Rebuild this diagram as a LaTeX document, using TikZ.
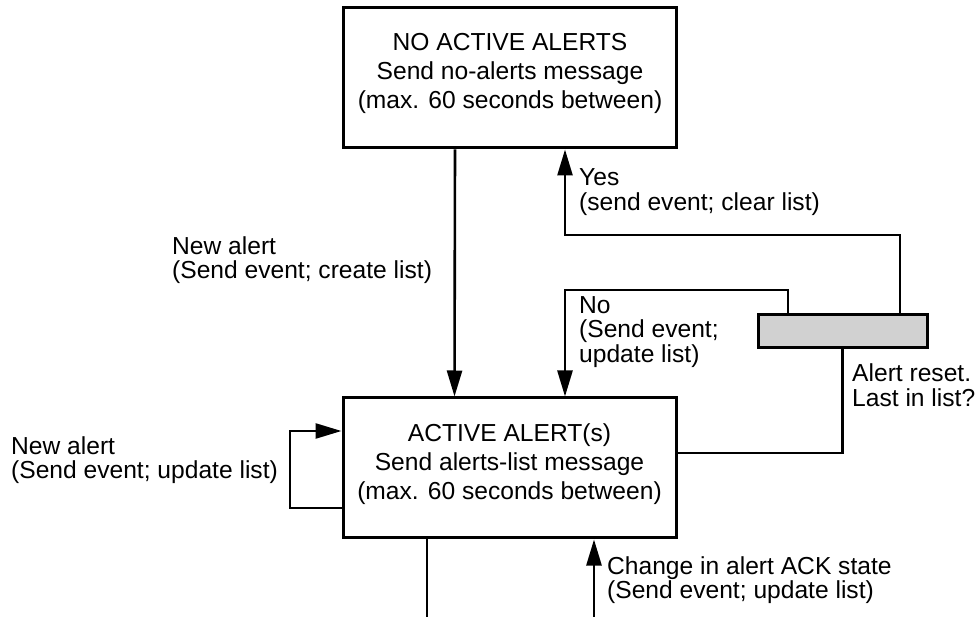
\documentclass[tikz,border=0pt]{standalone}
\usepackage{fontspec}
\setmainfont{Liberation Sans}
\usepackage{tikz}
\usetikzlibrary{arrows.meta,positioning}
\usepackage{xcolor}
\definecolor{barfill}{gray}{0.82}

\begin{document}
\begin{tikzpicture}[x=1pt, y=-1pt,
    statebox/.style={rectangle, draw, line width=3pt, minimum width=333pt, minimum height=140pt},
    boxtext/.style={align=center, inner sep=0, font=\fontsize{24.6}{29}\selectfont},
    lbl/.style={anchor=west, align=left, inner sep=0, font=\fontsize{24.6}{24.5}\selectfont},
    flow/.style={line width=2.6pt, -{Triangle[length=26pt, width=15pt]}},
    plain/.style={line width=2.6pt}]
  \useasboundingbox (0,0) rectangle (978,617);
  % states
  \node[statebox] (noalerts) at (510,78) {};
  \node[boxtext] (noalertstext) at ([yshift=5pt]noalerts.center) {NO ACTIVE ALERTS\\Send no-alerts message\\(max. 60 seconds between)};
  \node[statebox] (active) at (509.5,468) {};
  \node[boxtext] (activetext) at ([yshift=4pt]active.center) {ACTIVE ALERT(s)\\Send alerts-list message\\(max. 60 seconds between)};
  \node[rectangle, draw, line width=3pt, fill=barfill, minimum width=169pt, minimum height=33pt] (bar) at (842.5,331.5) {};
  % bends and free ends
  \coordinate (yesturn) at (565,235);
  \coordinate (noturn) at (565,290);
  \coordinate (loopcorner) at (290,431);
  \coordinate (outA) at (427,617);
  \coordinate (inB) at (594,617);
  % connectors
  \draw[flow] ([xshift=-55pt]noalerts.south) -- ([xshift=-55pt]active.north);
  \draw[flow] ([xshift=57.5pt]bar.north) |- (yesturn) -- (yesturn |- noalerts.south);
  \draw[flow] ([xshift=-54.5pt]bar.north) |- (noturn) -- (noturn |- active.north);
  \draw[plain] ([yshift=15pt]active.east) -| (bar.south);
  \draw[flow] ([yshift=-40pt]active.west) -| (loopcorner) -- (loopcorner -| active.west);
  \draw[plain] (outA |- active.south) -- (outA);
  \draw[flow] (inB) -- (inB |- active.south);
  % labels
  \node[lbl] (newalert) at (172,260) {New alert\\(Send event; create list)};
  \node[lbl] (loopnote) at (11,460) {New alert\\(Send event; update list)};
  \node[lbl] (yesnote) at (579,192) {Yes\\(send event; clear list)};
  \node[lbl] (nonote) at (579,332) {No\\(Send event;\\update list)};
  \node[lbl] (resetnote) at (852,385) {Alert reset.\\Last in list?};
  \node[lbl] (acknote) at (607,580) {Change in alert ACK state\\(Send event; update list)};
\end{tikzpicture}
\end{document}
